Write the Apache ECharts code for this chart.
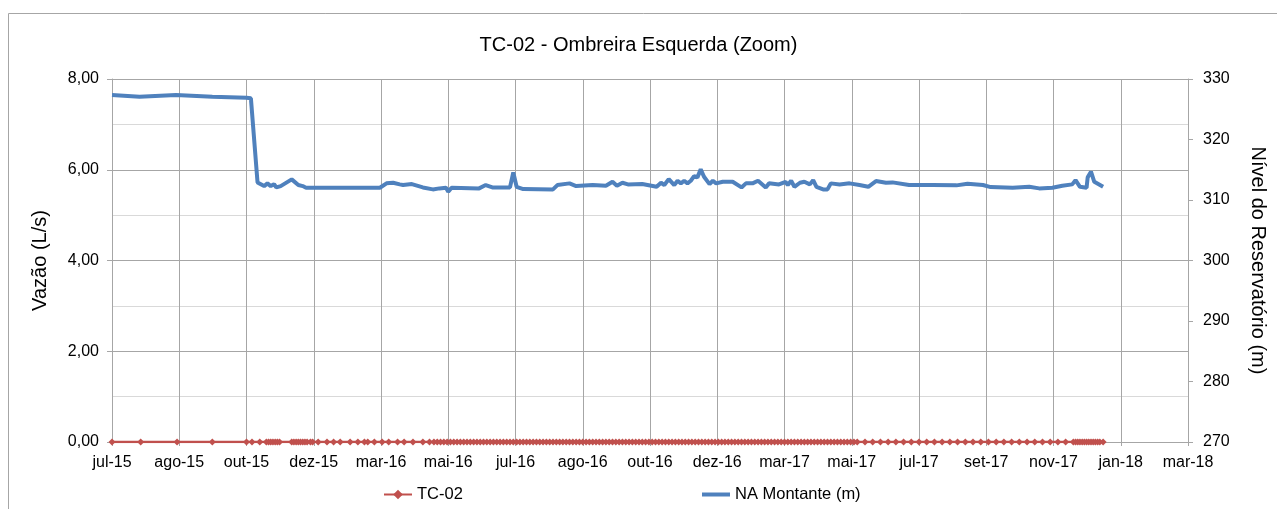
<!DOCTYPE html>
<html><head><meta charset="utf-8">
<script src="https://cdn.jsdelivr.net/npm/echarts@6/dist/echarts.min.js"></script>
<style>html,body{margin:0;padding:0;background:#fff}#c{width:1277px;height:509px}</style>
</head><body><div id="c"></div>
<script>
const chartTitle = "TC-02 - Ombreira Esquerda (Zoom)";
const leftAxisName = "Vazão (L/s)";
const rightAxisName = "Nível do Reservatório (m)";
const seriesNames = ["TC-02", "NA Montante (m)"];
const monthNames = ["jan","fev","mar","abr","mai","jun","jul","ago","set","out","nov","dez"];
const axisStart = "2015-07-01";
const axisEnd = "2018-03-03";
const tickDays = 61;
const leftRange = [0, 8, 2];
const rightRange = [270, 330, 10];

const tc02 = [
["2015-07-01",0],["2015-07-27",0],["2015-08-29",0],["2015-09-30",0],["2015-10-31",0],["2015-11-05",0],["2015-11-12",0],
["2015-11-18",0],["2015-11-20",0],["2015-11-22",0],["2015-11-24",0],["2015-11-26",0],["2015-11-28",0],["2015-11-30",0],
["2015-12-11",0],["2015-12-13",0],["2015-12-15",0],["2015-12-17",0],["2015-12-19",0],["2015-12-21",0],["2015-12-23",0],["2015-12-25",0],["2015-12-28",0],["2015-12-30",0],
["2016-01-04",0],["2016-01-12",0],["2016-01-18",0],["2016-01-24",0],["2016-02-02",0],["2016-02-09",0],["2016-02-15",0],["2016-02-18",0],["2016-02-24",0],
["2016-03-02",0],["2016-03-08",0],["2016-03-16",0],["2016-03-22",0],["2016-03-30",0],["2016-04-08",0],["2016-04-14",0],
["2016-04-18",0],["2016-04-21",0],["2016-04-24",0],["2016-04-27",0],["2016-04-30",0],["2016-05-03",0],["2016-05-06",0],["2016-05-09",0],["2016-05-12",0],["2016-05-15",0],
["2016-05-18",0],["2016-05-21",0],["2016-05-24",0],["2016-05-27",0],["2016-05-30",0],["2016-06-02",0],["2016-06-05",0],["2016-06-08",0],["2016-06-11",0],["2016-06-14",0],
["2016-06-17",0],["2016-06-20",0],["2016-06-23",0],["2016-06-26",0],["2016-06-29",0],["2016-07-02",0],["2016-07-05",0],["2016-07-08",0],["2016-07-11",0],["2016-07-14",0],
["2016-07-17",0],["2016-07-20",0],["2016-07-23",0],["2016-07-26",0],["2016-07-29",0],["2016-08-01",0],["2016-08-04",0],["2016-08-07",0],["2016-08-10",0],["2016-08-13",0],
["2016-08-16",0],["2016-08-19",0],["2016-08-22",0],["2016-08-25",0],["2016-08-28",0],["2016-08-31",0],["2016-09-03",0],["2016-09-06",0],["2016-09-09",0],["2016-09-12",0],
["2016-09-15",0],["2016-09-18",0],["2016-09-21",0],["2016-09-24",0],["2016-09-27",0],["2016-09-30",0],["2016-10-03",0],["2016-10-06",0],["2016-10-09",0],["2016-10-12",0],
["2016-10-15",0],["2016-10-18",0],["2016-10-21",0],["2016-10-24",0],["2016-10-27",0],["2016-10-30",0],["2016-11-02",0],["2016-11-05",0],["2016-11-08",0],["2016-11-11",0],
["2016-11-14",0],["2016-11-17",0],["2016-11-20",0],["2016-11-23",0],["2016-11-26",0],["2016-11-29",0],["2016-12-02",0],["2016-12-05",0],["2016-12-08",0],["2016-12-11",0],
["2016-12-14",0],["2016-12-17",0],["2016-12-20",0],["2016-12-23",0],["2016-12-26",0],["2016-12-29",0],["2017-01-01",0],["2017-01-04",0],["2017-01-07",0],["2017-01-10",0],
["2017-01-13",0],["2017-01-16",0],["2017-01-19",0],["2017-01-22",0],["2017-01-25",0],["2017-01-28",0],["2017-01-31",0],["2017-02-03",0],["2017-02-06",0],["2017-02-09",0],
["2017-02-12",0],["2017-02-15",0],["2017-02-18",0],["2017-02-21",0],["2017-02-24",0],["2017-02-27",0],["2017-03-02",0],["2017-03-05",0],["2017-03-08",0],["2017-03-11",0],
["2017-03-14",0],["2017-03-17",0],["2017-03-20",0],["2017-03-23",0],["2017-03-26",0],["2017-03-29",0],["2017-04-01",0],["2017-04-04",0],["2017-04-07",0],["2017-04-10",0],
["2017-04-13",0],["2017-04-16",0],["2017-04-19",0],["2017-04-22",0],["2017-04-25",0],["2017-04-28",0],["2017-05-01",0],["2017-05-04",0],["2017-05-07",0],
["2017-05-14",0],["2017-05-21",0],["2017-05-28",0],["2017-06-04",0],["2017-06-11",0],["2017-06-18",0],["2017-06-25",0],["2017-07-02",0],["2017-07-09",0],["2017-07-16",0],
["2017-07-23",0],["2017-07-30",0],["2017-08-06",0],["2017-08-13",0],["2017-08-20",0],["2017-08-27",0],["2017-09-03",0],["2017-09-10",0],["2017-09-17",0],["2017-09-24",0],
["2017-10-01",0],["2017-10-08",0],["2017-10-15",0],["2017-10-22",0],["2017-10-29",0],["2017-11-05",0],["2017-11-12",0],
["2017-11-19",0],["2017-11-21",0],["2017-11-23",0],["2017-11-25",0],["2017-11-27",0],["2017-11-29",0],["2017-12-01",0],["2017-12-03",0],["2017-12-05",0],["2017-12-07",0],
["2017-12-09",0],["2017-12-11",0],["2017-12-13",0],["2017-12-16",0]
];

const naMontante = [
["2015-07-01",327.35],["2015-07-26",327.07],["2015-08-28",327.35],["2015-09-30",327.07],["2015-10-31",326.91],["2015-11-04",326.81],
["2015-11-10",312.91],["2015-11-16",312.30],["2015-11-19",312.75],["2015-11-22",312.30],["2015-11-25",312.63],["2015-11-27",312.08],
["2015-12-01",312.30],["2015-12-11",313.41],["2015-12-17",312.47],["2015-12-21",312.30],["2015-12-24",312.02],["2016-02-29",312.02],
["2016-03-06",312.75],["2016-03-12",312.85],["2016-03-18",312.58],["2016-03-21",312.47],["2016-03-29",312.63],["2016-04-08",312.08],
["2016-04-17",311.75],["2016-04-23",311.92],["2016-04-29",312.02],["2016-05-01",311.36],["2016-05-04",312.02],["2016-05-29",311.92],
["2016-06-04",312.47],["2016-06-10",312.08],["2016-06-26",312.08],["2016-06-29",314.57],["2016-07-02",312.18],["2016-07-08",311.80],
["2016-08-04",311.75],["2016-08-08",312.47],["2016-08-19",312.75],["2016-08-25",312.30],["2016-09-09",312.47],["2016-09-21",312.35],
["2016-09-27",313.01],["2016-10-01",312.35],["2016-10-06",312.85],["2016-10-11",312.58],["2016-10-24",312.63],["2016-11-06",312.18],
["2016-11-10",312.85],["2016-11-13",312.47],["2016-11-17",313.46],["2016-11-22",312.47],["2016-11-25",313.18],["2016-11-28",312.75],
["2016-12-01",313.18],["2016-12-04",312.75],["2016-12-07",313.18],["2016-12-10",313.95],["2016-12-13",313.74],["2016-12-16",315.06],
["2016-12-19",313.84],["2016-12-24",312.63],["2016-12-27",313.18],["2016-12-30",312.75],["2017-01-05",313.01],["2017-01-14",313.01],
["2017-01-22",312.08],["2017-01-26",312.75],["2017-02-01",312.75],["2017-02-06",313.18],["2017-02-13",312.08],["2017-02-16",312.75],
["2017-02-25",312.58],["2017-03-03",313.01],["2017-03-05",312.47],["2017-03-08",313.18],["2017-03-11",312.18],["2017-03-16",312.85],
["2017-03-20",313.01],["2017-03-25",312.58],["2017-03-28",313.29],["2017-03-31",312.18],["2017-04-06",311.75],["2017-04-10",311.75],
["2017-04-13",312.75],["2017-04-21",312.58],["2017-04-30",312.75],["2017-05-09",312.47],["2017-05-17",312.18],["2017-05-24",313.13],
["2017-06-02",312.85],["2017-06-08",312.91],["2017-06-23",312.47],["2017-07-14",312.47],["2017-08-05",312.42],["2017-08-15",312.68],
["2017-08-29",312.47],["2017-09-05",312.13],["2017-09-25",312.02],["2017-10-10",312.18],["2017-10-19",311.92],["2017-10-31",312.02],
["2017-11-09",312.35],["2017-11-18",312.58],["2017-11-21",313.29],["2017-11-25",312.18],["2017-12-01",312.02],["2017-12-02",313.74],
["2017-12-05",314.67],["2017-12-08",313.01],["2017-12-16",312.18]
];

const DAY = 86400000;
const t0 = Date.parse(axisStart);
const toDays = s => Math.round((Date.parse(s) - t0) / DAY);
const fmtDate = v => {
  const d = new Date(t0 + v * DAY);
  return monthNames[d.getUTCMonth()] + "-" + String(d.getUTCFullYear()).slice(2);
};
const font = "Liberation Sans, Arial, sans-serif";
const major = "#a6a6a6";

const chart = echarts.init(document.getElementById("c"), null, {renderer: "canvas"});
chart.setOption({
  animation: false,
  backgroundColor: "#fff",
  textStyle: {fontFamily: font, color: "#000"},
  graphic: [{type: "rect", z: -10, silent: true,
    shape: {x: 8.5, y: 13.5, width: 1400, height: 600},
    style: {fill: "none", stroke: "#a6a6a6", lineWidth: 1}}],
  title: {text: chartTitle, left: "center", top: 30,
    textStyle: {fontFamily: font, fontSize: 20, fontWeight: "normal", color: "#000"}},
  legend: [
    {data: [seriesNames[0]], left: 378, top: 481, itemWidth: 28, itemHeight: 12,
     textStyle: {fontFamily: font, fontSize: 16.5, color: "#000"}},
    {data: [{name: seriesNames[1], icon: "rect"}], left: 697, top: 481, itemWidth: 28, itemHeight: 4,
     textStyle: {fontFamily: font, fontSize: 16.5, color: "#000"}}
  ],
  grid: {left: 112, right: 89, top: 79, bottom: 67, containLabel: false},
  xAxis: {
    type: "value", min: 0, max: toDays(axisEnd), interval: tickDays,
    axisLine: {show: true, onZero: false, lineStyle: {color: major, width: 1}},
    axisTick: {show: true, length: 4, lineStyle: {color: major}},
    axisLabel: {formatter: fmtDate, fontFamily: font, fontSize: 16, color: "#000", margin: 13,
      showMinLabel: true, showMaxLabel: true},
    splitLine: {show: true, lineStyle: {color: major, width: 1}}
  },
  yAxis: [
    {type: "value", min: leftRange[0], max: leftRange[1], interval: leftRange[2],
     name: leftAxisName, nameLocation: "middle", nameGap: 62,
     nameTextStyle: {fontFamily: font, fontSize: 20, color: "#000"},
     axisLine: {show: true, lineStyle: {color: major}},
     axisTick: {show: true, length: 5, lineStyle: {color: major}},
     axisLabel: {formatter: v => v.toFixed(2).replace(".", ","), fontFamily: font, fontSize: 16, color: "#000", margin: 13},
     splitLine: {show: true, lineStyle: {color: major}},
     minorTick: {show: false, splitNumber: 2},
     minorSplitLine: {show: true, lineStyle: {color: "#d9d9d9"}}
    },
    {type: "value", min: rightRange[0], max: rightRange[1], interval: rightRange[2], position: "right",
     name: rightAxisName, nameLocation: "middle", nameGap: 60, nameRotate: -90,
     nameTextStyle: {fontFamily: font, fontSize: 20, color: "#000"},
     axisLine: {show: true, lineStyle: {color: major}},
     axisTick: {show: true, length: 5, lineStyle: {color: major}},
     axisLabel: {fontFamily: font, fontSize: 16, color: "#000", margin: 15},
     splitLine: {show: false}
    }
  ],
  series: [
    {name: seriesNames[0], type: "line", yAxisIndex: 0, z: 3,
     data: tc02.map(p => [toDays(p[0]), p[1]]),
     symbol: "diamond", symbolSize: 7, showSymbol: true,
     itemStyle: {color: "#C0504D"}, lineStyle: {color: "#C0504D", width: 2.5}},
    {name: seriesNames[1], type: "line", yAxisIndex: 1, z: 4,
     data: naMontante.map(p => [toDays(p[0]), p[1]]),
     symbol: "none", showSymbol: false,
     itemStyle: {color: "#4F81BD"}, lineStyle: {color: "#4F81BD", width: 4}}
  ]
});
</script>
</body></html>
